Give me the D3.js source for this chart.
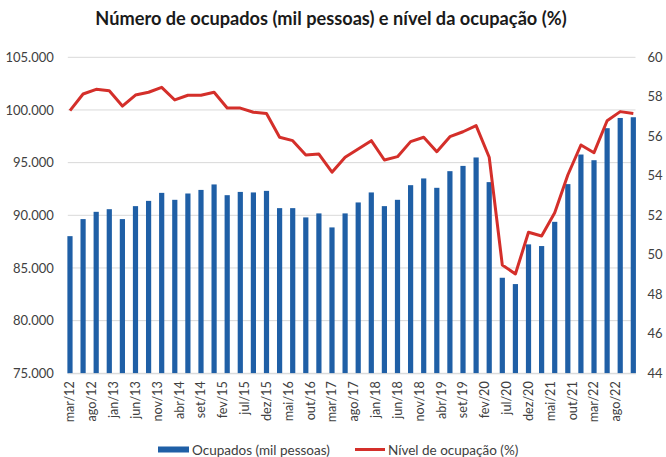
<!DOCTYPE html>
<html>
<head>
<meta charset="utf-8">
<script src="https://cdn.jsdelivr.net/npm/d3@7"></script>
<style>
  body { margin: 0; background: #fff; }
  svg text { font-family: Lato, "Open Sans", sans-serif; fill: #404040; }
</style>
</head>
<body>
<div id="chart"></div>
<script>
// quarters (end month of moving quarter), mar/12 .. dez/22
var quarters = [
  "2012-03","2012-06","2012-09","2012-12",
  "2013-03","2013-06","2013-09","2013-12",
  "2014-03","2014-06","2014-09","2014-12",
  "2015-03","2015-06","2015-09","2015-12",
  "2016-03","2016-06","2016-09","2016-12",
  "2017-03","2017-06","2017-09","2017-12",
  "2018-03","2018-06","2018-09","2018-12",
  "2019-03","2019-06","2019-09","2019-12",
  "2020-03","2020-06","2020-09","2020-12",
  "2021-03","2021-06","2021-09","2021-12",
  "2022-03","2022-06","2022-09","2022-12"
];
// ocupados, mil pessoas
var ocupados = [
  88020, 89640, 90330, 90580,
  89640, 90870, 91370, 92130,
  91470, 92070, 92410, 92930,
  91910, 92220, 92170, 92320,
  90680, 90680, 89800, 90180,
  88850, 90180, 91220, 92170,
  90870, 91470, 92860, 93500,
  92610, 94190, 94690, 95490,
  93150, 84070, 83470, 87240,
  87080, 89380, 92960, 95770,
  95230, 98270, 99240, 99310
];
// nivel de ocupacao, %
var nivel = [
  57.3, 58.14, 58.38, 58.31,
  57.53, 58.09, 58.23, 58.48,
  57.84, 58.08, 58.08, 58.23,
  57.43, 57.43, 57.22, 57.15,
  55.95, 55.78, 55.05, 55.1,
  54.18, 54.94, 55.36, 55.78,
  54.8, 54.97, 55.73, 55.95,
  55.22, 55.98, 56.23, 56.54,
  54.94, 49.48, 49.03, 51.14,
  50.95, 52.13, 54.04, 55.56,
  55.17, 56.79, 57.25, 57.16
];
var tickMonths = [
  "2012-03","2012-08","2013-01","2013-06","2013-11","2014-04","2014-09",
  "2015-02","2015-07","2015-12","2016-05","2016-10","2017-03","2017-08",
  "2018-01","2018-06","2018-11","2019-04","2019-09","2020-02","2020-07",
  "2020-12","2021-05","2021-10","2022-03","2022-08"
];
var tickLabels = [
  "mar/12","ago/12","jan/13","jun/13","nov/13","abr/14","set/14",
  "fev/15","jul/15","dez/15","mai/16","out/16","mar/17","ago/17",
  "jan/18","jun/18","nov/18","abr/19","set/19","fev/20","jul/20",
  "dez/20","mai/21","out/21","mar/22","ago/22"
];
var leftTicks = [75000, 80000, 85000, 90000, 95000, 100000, 105000];
var rightTicks = [44, 46, 48, 50, 52, 54, 56, 58, 60];

var W = 666, H = 457;
var margin = {top: 57.3, left: 67.8, right: 30.5, bottom: 83.7};
var blue = "#1f5fa6", red = "#d42f2a", grid = "#d9d9d9";

var svg = d3.select("#chart").append("svg")
  .attr("width", W).attr("height", H);

// date axis with month base unit (like excel)
var fmt = d3.timeFormat("%Y-%m"), parse = d3.timeParse("%Y-%m");
var allMonths = d3.timeMonth.range(parse(quarters[0]), d3.timeMonth.offset(parse(quarters[quarters.length - 1]), 1)).map(fmt);

var x = d3.scaleBand().domain(allMonths).range([margin.left, W - margin.right]).padding(0);
var yL = d3.scaleLinear().domain([75000, 105000]).range([H - margin.bottom, margin.top]);
var yR = d3.scaleLinear().domain([44, 60]).range([H - margin.bottom, margin.top]);
var cx = function (m) { return x(m) + x.bandwidth() / 2; };

svg.append("text")
  .attr("x", 331).attr("y", 25)
  .attr("text-anchor", "middle")
  .style("font-size", "18.2px").style("font-weight", "bold").style("fill", "#1a1a1a")
  .text("Número de ocupados (mil pessoas) e nível da ocupação (%)");

// gridlines
svg.append("g").selectAll("line").data(leftTicks).join("line")
  .attr("x1", margin.left).attr("x2", W - margin.right)
  .attr("y1", function (d) { return yL(d); }).attr("y2", function (d) { return yL(d); })
  .attr("stroke", grid).attr("stroke-width", 1);

// left axis
var leftAxis = d3.axisLeft(yL).tickValues(leftTicks).tickSize(0).tickPadding(14)
  .tickFormat(function (d) { return d3.format(",")(d).replace(/,/g, "."); });
var gl = svg.append("g").attr("transform", "translate(" + margin.left + ",0)").call(leftAxis);
gl.select(".domain").remove();
gl.selectAll("text").style("font-size", "13px").style("fill", "#404040").attr("font-family", null);

// right axis
var rightAxis = d3.axisRight(yR).tickValues(rightTicks).tickSize(0).tickPadding(12);
var gr = svg.append("g").attr("transform", "translate(" + (W - margin.right) + ",0)").call(rightAxis);
gr.select(".domain").remove();
gr.selectAll("text").style("font-size", "13px").style("fill", "#404040").attr("font-family", null);

// bars
svg.append("g").selectAll("rect").data(quarters).join("rect")
  .attr("x", function (d) { return cx(d) - 2.6; })
  .attr("width", 5.2)
  .attr("y", function (d, i) { return yL(ocupados[i]); })
  .attr("height", function (d, i) { return yL(75000) - yL(ocupados[i]); })
  .attr("fill", blue);

// bottom axis
var bottomAxis = d3.axisBottom(x).tickValues(tickMonths).tickSize(0).tickPadding(0)
  .tickFormat(function (d) { return tickLabels[tickMonths.indexOf(d)]; });
var gb = svg.append("g").attr("transform", "translate(0," + (H - margin.bottom) + ")").call(bottomAxis);
gb.select(".domain").attr("stroke", grid);
gb.selectAll("text")
  .attr("font-family", null)
  .style("font-size", "12.6px").style("fill", "#404040")
  .attr("text-anchor", "end")
  .attr("dy", "0.35em")
  .attr("transform", "translate(0,8) rotate(-90)")
  .attr("x", 0).attr("y", 0);

// line
var line = d3.line()
  .x(function (d) { return cx(d); })
  .y(function (d, i) { return yR(nivel[i]); });
svg.append("path").datum(quarters)
  .attr("d", line)
  .attr("fill", "none").attr("stroke", red).attr("stroke-width", 3)
  .attr("stroke-linejoin", "round");

// legend
var lg = svg.append("g");
lg.append("rect").attr("x", 158).attr("y", 446.5).attr("width", 31).attr("height", 6).attr("fill", blue);
lg.append("text").attr("x", 192).attr("y", 454.5).style("font-size", "13.5px").text("Ocupados (mil pessoas)");
lg.append("line").attr("x1", 355).attr("x2", 385).attr("y1", 449.5).attr("y2", 449.5)
  .attr("stroke", red).attr("stroke-width", 3);
lg.append("text").attr("x", 388).attr("y", 454.5).style("font-size", "13.5px").text("Nível de ocupação (%)");
</script>
</body>
</html>
